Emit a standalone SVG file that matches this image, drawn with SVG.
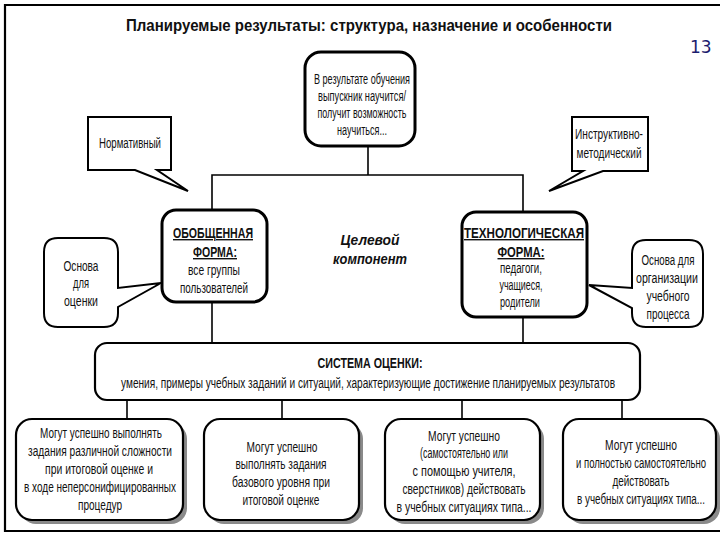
<svg xmlns="http://www.w3.org/2000/svg" width="720" height="540" viewBox="0 0 720 540">
<style>
.t{font-family:"Liberation Sans",Arial,sans-serif;font-size:14px;text-anchor:middle;fill:#111}
.b{font-weight:bold}
.u{text-decoration:underline}
.bi{font-weight:bold;font-style:italic;font-size:15px}
.box{fill:#fff;stroke:#000;stroke-width:2.2}
.thick{fill:#fff;stroke:#000;stroke-width:3}
.call{fill:#fff;stroke:#000;stroke-width:2;stroke-linejoin:miter}
.sh{fill:#8a8a8a}
.ln{stroke:#000;stroke-width:1.6;fill:none}
</style>
<rect width="720" height="540" fill="#fff"/>
<g id="frame" fill="none" stroke="#000" stroke-width="2.2">
<path d="M720,5 H5 V531 H720"/>
</g>
<text class="t b" x="369" y="31" style="font-size:17px" textLength="486" lengthAdjust="spacingAndGlyphs">Планируемые результаты: структура, назначение и особенности</text>
<text x="690" y="53" style="font-family:'DejaVu Sans',sans-serif;font-size:17px;fill:#1c1c6e">13</text>

<g id="connectors" class="ln">
<path d="M368,146 V175"/>
<path d="M212,210 V175 H523 V212"/>
<path d="M212,302 V343"/>
<path d="M523,317 V343"/>
<path d="M127,400 V419"/>
<path d="M282,400 V419"/>
<path d="M462,400 V419"/>
<path d="M622,400 V419"/>
</g>

<g id="top">
<rect class="thick" x="305" y="52" width="110" height="94" rx="16"/>
<text class="t" x="362" y="84" textLength="96" lengthAdjust="spacingAndGlyphs">В результате обучения</text>
<text class="t" x="362" y="101" textLength="88" lengthAdjust="spacingAndGlyphs">выпускник научится/</text>
<text class="t" x="362" y="118" textLength="89" lengthAdjust="spacingAndGlyphs">получит возможность</text>
<text class="t" x="362" y="135" textLength="50" lengthAdjust="spacingAndGlyphs">научиться...</text>
</g>

<g id="normativ">
<path class="call" d="M88,117 H171 V170 H157 L188,191 L135,170 H88 Z"/>
<text class="t" x="130" y="148" textLength="62" lengthAdjust="spacingAndGlyphs">Нормативный</text>
</g>

<g id="instrukt">
<path class="call" d="M572,117 H648 V171 H603 L549,191 L583,171 H572 Z"/>
<text class="t" x="609" y="139" textLength="68" lengthAdjust="spacingAndGlyphs">Инструктивно-</text>
<text class="t" x="609" y="158" textLength="65" lengthAdjust="spacingAndGlyphs">методический</text>
</g>

<g id="obob">
<rect class="thick" x="162" y="210" width="105" height="92" rx="14"/>
<text class="t b u" x="213" y="238" textLength="80" lengthAdjust="spacingAndGlyphs">ОБОБЩЕННАЯ</text>
<text class="t b u" x="215" y="257" textLength="44" lengthAdjust="spacingAndGlyphs">ФОРМА:</text>
<text class="t" x="214" y="275" textLength="52" lengthAdjust="spacingAndGlyphs">все группы</text>
<text class="t" x="214" y="293" textLength="68" lengthAdjust="spacingAndGlyphs">пользователей</text>
</g>

<g id="osnova1">
<path class="call" d="M58,238 H104 Q118,238 118,252 V288 L161,283 L118,307 V313 Q118,327 104,327 H58 Q44,327 44,313 V252 Q44,238 58,238 Z"/>
<text class="t" x="81" y="271" textLength="35" lengthAdjust="spacingAndGlyphs">Основа</text>
<text class="t" x="81" y="288" textLength="16" lengthAdjust="spacingAndGlyphs">для</text>
<text class="t" x="81" y="306" textLength="34" lengthAdjust="spacingAndGlyphs">оценки</text>
</g>

<g id="celevoy">
<text class="t bi" x="370" y="245" textLength="59" lengthAdjust="spacingAndGlyphs">Целевой</text>
<text class="t bi" x="370" y="264" textLength="74" lengthAdjust="spacingAndGlyphs">компонент</text>
</g>

<g id="tech">
<rect class="thick" x="462" y="212" width="125" height="105" rx="14"/>
<text class="t b u" x="524" y="238" textLength="120" lengthAdjust="spacingAndGlyphs">ТЕХНОЛОГИЧЕСКАЯ</text>
<text class="t b u" x="521" y="257" textLength="47" lengthAdjust="spacingAndGlyphs">ФОРМА:</text>
<text class="t" x="521" y="273" textLength="42" lengthAdjust="spacingAndGlyphs">педагоги,</text>
<text class="t" x="521" y="290" textLength="43" lengthAdjust="spacingAndGlyphs">учащиеся,</text>
<text class="t" x="520" y="307" textLength="40" lengthAdjust="spacingAndGlyphs">родители</text>
</g>

<g id="osnova2">
<path class="call" d="M646,240 H689 Q703,240 703,254 V313 Q703,327 689,327 H646 Q632,327 632,313 V308 L589,285 L632,288 V254 Q632,240 646,240 Z"/>
<text class="t" x="668" y="265" textLength="53" lengthAdjust="spacingAndGlyphs">Основа для</text>
<text class="t" x="667" y="283" textLength="62" lengthAdjust="spacingAndGlyphs">организации</text>
<text class="t" x="668" y="301" textLength="43" lengthAdjust="spacingAndGlyphs">учебного</text>
<text class="t" x="668" y="319" textLength="43" lengthAdjust="spacingAndGlyphs">процесса</text>
</g>

<g id="system">
<rect class="box" x="95" y="343" width="545" height="57" rx="12"/>
<text class="t b" x="370" y="368" textLength="105" lengthAdjust="spacingAndGlyphs">СИСТЕМА ОЦЕНКИ:</text>
<text class="t" x="368" y="388" textLength="494" lengthAdjust="spacingAndGlyphs">умения, примеры учебных заданий и ситуаций, характеризующие достижение планируемых результатов</text>
</g>

<g id="b1">
<rect class="sh" x="20" y="423" width="167" height="101" rx="16"/>
<rect class="box" x="16" y="419" width="167" height="101" rx="16"/>
<text class="t" x="101" y="438" textLength="122" lengthAdjust="spacingAndGlyphs">Могут успешно выполнять</text>
<text class="t" x="100" y="456" textLength="144" lengthAdjust="spacingAndGlyphs">задания различной сложности</text>
<text class="t" x="99" y="474" textLength="108" lengthAdjust="spacingAndGlyphs">при итоговой оценке и</text>
<text class="t" x="100" y="492" textLength="152" lengthAdjust="spacingAndGlyphs">в ходе неперсонифицированных</text>
<text class="t" x="100" y="510" textLength="44" lengthAdjust="spacingAndGlyphs">процедур</text>
</g>

<g id="b2">
<rect class="sh" x="208" y="423" width="155" height="101" rx="16"/>
<rect class="box" x="204" y="419" width="155" height="101" rx="16"/>
<text class="t" x="282" y="452" textLength="71" lengthAdjust="spacingAndGlyphs">Могут успешно</text>
<text class="t" x="281" y="469" textLength="91" lengthAdjust="spacingAndGlyphs">выполнять задания</text>
<text class="t" x="281" y="487" textLength="98" lengthAdjust="spacingAndGlyphs">базового уровня при</text>
<text class="t" x="281" y="505" textLength="77" lengthAdjust="spacingAndGlyphs">итоговой оценке</text>
</g>

<g id="b3">
<rect class="sh" x="389" y="423" width="155" height="101" rx="16"/>
<rect class="box" x="385" y="419" width="155" height="101" rx="16"/>
<text class="t" x="464" y="441" textLength="72" lengthAdjust="spacingAndGlyphs">Могут успешно</text>
<text class="t" x="464" y="458" textLength="88" lengthAdjust="spacingAndGlyphs">(самостоятельно или</text>
<text class="t" x="464" y="476" textLength="103" lengthAdjust="spacingAndGlyphs">с помощью учителя,</text>
<text class="t" x="464" y="494" textLength="123" lengthAdjust="spacingAndGlyphs">сверстников) действовать</text>
<text class="t" x="464" y="512" textLength="135" lengthAdjust="spacingAndGlyphs">в учебных ситуациях типа...</text>
</g>

<g id="b4">
<rect class="sh" x="567" y="423" width="153" height="101" rx="16"/>
<rect class="box" x="563" y="419" width="153" height="101" rx="16"/>
<text class="t" x="641" y="450" textLength="72" lengthAdjust="spacingAndGlyphs">Могут успешно</text>
<text class="t" x="641" y="468" textLength="130" lengthAdjust="spacingAndGlyphs">и полностью самостоятельно</text>
<text class="t" x="641" y="486" textLength="57" lengthAdjust="spacingAndGlyphs">действовать</text>
<text class="t" x="641" y="504" textLength="128" lengthAdjust="spacingAndGlyphs">в учебных ситуациях типа...</text>
</g>
</svg>
